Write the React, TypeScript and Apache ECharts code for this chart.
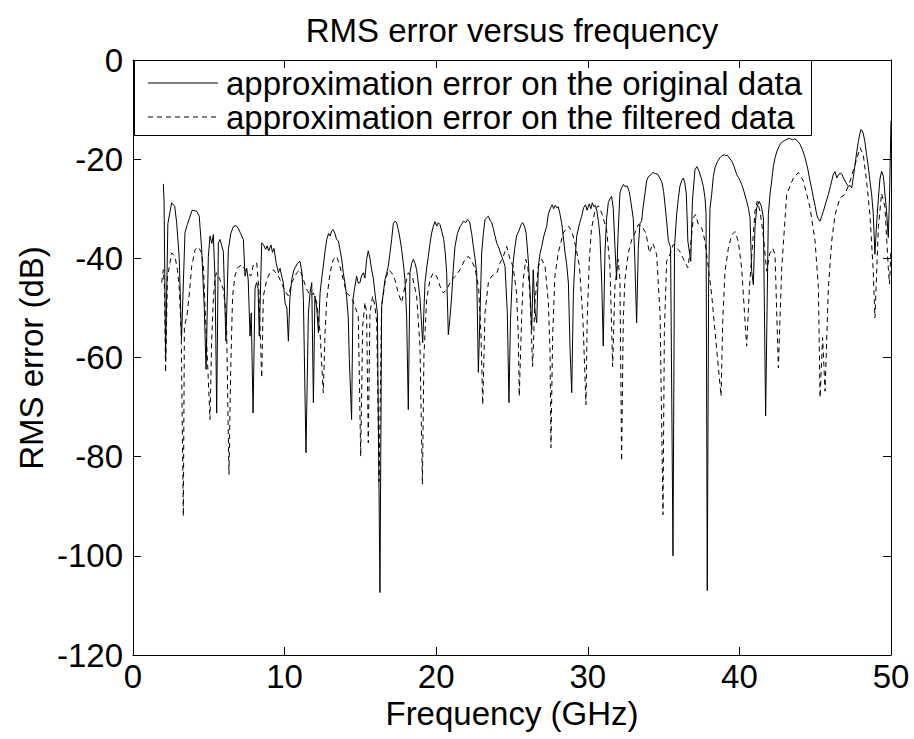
import React, { useEffect, useRef } from "react";
import * as echarts from "echarts";

const titleText = "RMS error versus frequency";
const xAxisTitle = "Frequency (GHz)";
const yAxisTitle = "RMS error (dB)";
const seriesNames = [
  "approximation error on the original data",
  "approximation error on the filtered data",
];
const xTicks = [0, 10, 20, 30, 40, 50];
const yTicks = [-120, -100, -80, -60, -40, -20, 0];

const freqOriginal = [
  2.0, 2.05, 2.15, 2.3, 2.55, 2.75, 2.88, 3.05, 3.2, 3.43, 3.58, 3.9, 4.2, 4.37, 4.53, 4.7, 4.82, 4.97, 5.08, 5.2,
  5.3, 5.42, 5.52, 5.63, 5.74, 5.96, 6.13, 6.29, 6.45, 6.62, 6.8, 6.95, 7.1, 7.28, 7.39, 7.5, 7.6, 7.72, 7.8, 7.92,
  8.05, 8.15, 8.25, 8.33, 8.49, 8.6, 8.75, 8.85, 8.95, 9.1, 9.2, 9.3, 9.45, 9.59, 9.7, 9.81, 9.92, 10.03, 10.15, 10.25,
  10.35, 10.47, 10.6, 10.69, 10.85, 11.02, 11.15, 11.24, 11.41, 11.57, 11.68, 11.79, 11.9, 12.0, 12.12, 12.23, 12.34, 12.45, 12.55, 12.67,
  12.78, 12.9, 13.0, 13.1, 13.21, 13.32, 13.43, 13.55, 13.65, 13.76, 13.87, 13.98, 14.09, 14.2, 14.27, 14.42, 14.51, 14.62, 14.75, 14.86,
  14.97, 15.08, 15.2, 15.3, 15.41, 15.52, 15.63, 15.74, 15.85, 15.96, 16.12, 16.29, 16.4, 16.51, 16.62, 16.73, 16.84, 16.95, 17.06, 17.17,
  17.28, 17.39, 17.5, 17.61, 17.72, 17.83, 17.94, 18.05, 18.16, 18.27, 18.38, 18.49, 18.6, 18.71, 18.82, 18.93, 19.11, 19.26, 19.37, 19.48,
  19.59, 19.7, 19.81, 19.92, 20.03, 20.14, 20.25, 20.36, 20.5, 20.6, 20.69, 20.8, 20.91, 21.02, 21.13, 21.24, 21.4, 21.57, 21.7, 21.8,
  21.95, 22.05, 22.2, 22.34, 22.45, 22.56, 22.67, 22.78, 22.9, 23.0, 23.11, 23.22, 23.33, 23.44, 23.55, 23.66, 23.77, 23.88, 24.0, 24.1,
  24.2, 24.32, 24.43, 24.54, 24.69, 24.8, 24.9, 25.05, 25.18, 25.3, 25.45, 25.6, 25.7, 25.82, 25.93, 26.07, 26.18, 26.3, 26.4, 26.51,
  26.63, 26.74, 26.85, 26.96, 27.1, 27.29, 27.4, 27.55, 27.65, 27.75, 27.85, 27.95, 28.05, 28.16, 28.27, 28.38, 28.5, 28.6, 28.72, 28.83,
  28.94, 29.05, 29.16, 29.27, 29.45, 29.6, 29.72, 29.85, 29.95, 30.1, 30.2, 30.3, 30.4, 30.5, 30.6, 30.7, 30.8, 30.92, 31.02, 31.13,
  31.24, 31.35, 31.46, 31.57, 31.68, 31.79, 31.9, 32.0, 32.12, 32.23, 32.35, 32.45, 32.6, 32.73, 32.85, 33.0, 33.1, 33.22, 33.33, 33.44,
  33.55, 33.66, 33.77, 33.88, 34.0, 34.1, 34.3, 34.45, 34.6, 34.75, 34.9, 35.0, 35.09, 35.2, 35.31, 35.46, 35.62, 35.72, 35.86, 35.97,
  36.08, 36.2, 36.3, 36.4, 36.5, 36.6, 36.79, 36.9, 37.07, 37.2, 37.35, 37.5, 37.62, 37.73, 37.8, 37.88, 37.97, 38.06, 38.17, 38.28,
  38.39, 38.55, 38.72, 38.85, 39.0, 39.1, 39.2, 39.35, 39.5, 39.65, 39.82, 40.0, 40.15, 40.3, 40.48, 40.6, 40.7, 40.81, 40.92, 41.03,
  41.14, 41.3, 41.45, 41.58, 41.73, 41.91, 42.02, 42.13, 42.24, 42.35, 42.5, 42.68, 42.85, 43.0, 43.1, 43.3, 43.5, 43.65, 43.8, 44.0,
  44.15, 44.33, 44.5, 44.66, 44.77, 44.88, 45.0, 45.1, 45.2, 45.32, 45.43, 45.54, 45.7, 45.87, 46.0, 46.09, 46.2, 46.31, 46.42, 46.53,
  46.64, 46.75, 46.9, 47.08, 47.2, 47.3, 47.41, 47.52, 47.63, 47.74, 47.85, 47.95, 48.02, 48.1, 48.17, 48.28, 48.39, 48.5, 48.61, 48.72,
  48.83, 48.94, 49.05, 49.17, 49.27, 49.38, 49.5, 49.6, 49.71, 49.82, 49.9, 50.0,
];
const rmsOriginal = [
  -25, -28.5, -60, -33, -28.8, -29.5, -32.8, -40, -56.4, -34.8, -33.2, -30.3, -30.5, -31.5, -38.2, -50, -62.4, -39.6, -35.5, -37,
  -35.2, -45, -71.2, -36.9, -36.2, -38.6, -56.7, -38.2, -35, -33.6, -33.4, -34, -35, -36.2, -43.6, -42, -44.3, -55.7, -51, -71.2,
  -46, -44.9, -46, -55.7, -36.9, -37.2, -38.2, -37.5, -38.5, -37.3, -38.8, -38, -41, -42.9, -42, -43.6, -45, -49, -50, -56.7,
  -48, -44.3, -42.5, -41.9, -41, -40.6, -43, -48.3, -79.2, -51, -47, -44.9, -69.1, -47.6, -50, -55, -47, -44, -41.6, -38.5,
  -36.2, -35, -35.5, -34.5, -34.2, -35, -36.2, -36.5, -38.2, -40, -42.9, -45, -47.6, -52, -60.4, -72.5, -48.3, -46, -43.6, -45,
  -44.9, -43.5, -42.9, -44, -40.2, -38.5, -40, -42.3, -44, -47, -51, -107.4, -49.7, -47, -44.3, -43, -41.6, -39, -36.2, -33,
  -32.5, -32.8, -34.2, -36, -38.2, -41, -44.3, -51.6, -70.5, -42.9, -41, -40.2, -41, -42.3, -45, -48, -57, -44.9, -42, -39.6,
  -37, -34.9, -33.5, -32.6, -33.5, -32.8, -33.2, -34.5, -36.2, -39, -42.9, -55.4, -52, -47.6, -42, -37.6, -35, -33.6, -33, -32.5,
  -32.8, -32.2, -32.6, -35, -37.6, -40, -42.9, -63, -50, -38.9, -35, -32.2, -31.8, -31.5, -32.3, -32.8, -34, -35.5, -37, -37.6,
  -38.5, -39.6, -40.5, -41.6, -51, -69.1, -52.4, -41.6, -38, -35.5, -34.5, -33.2, -32.8, -33.5, -34.9, -40.2, -46, -54.4, -42.3, -50.4,
  -53, -41.6, -39, -37.6, -35.5, -33.5, -31, -29.8, -29.2, -30, -29.3, -29.8, -29.6, -31, -32.8, -35.5, -38.9, -41, -45, -58.4,
  -67.1, -47, -40, -35.5, -33, -31.5, -29.8, -29.2, -30.3, -29, -30, -28.8, -29.6, -29.3, -30.5, -32.5, -35.5, -45, -57.7, -39,
  -32, -28.8, -28, -27.5, -30, -37.6, -44.3, -35, -26.8, -25.8, -25.1, -25.5, -25.4, -26.5, -28.8, -32, -40, -53, -38, -33,
  -32.5, -29.4, -27, -24.4, -23.5, -23.3, -22.7, -22.9, -23, -23.8, -24.8, -26.5, -29.1, -32.5, -36.4, -37.8, -100, -37.7, -31.2, -28,
  -25.4, -24.3, -23.8, -24.8, -27, -36.5, -40.6, -28.5, -22.1, -21.5, -22.5, -24, -25.5, -27.8, -31, -107, -45, -30, -27.1, -23.5,
  -21.7, -20.5, -19.7, -19.3, -19.1, -19.3, -19.2, -19.8, -20.4, -21.5, -23.1, -24, -25.1, -26.5, -28.5, -30, -31.8, -42.6, -45.3, -33.8,
  -29.8, -28.5, -29.5, -31.8, -71.8, -31.2, -27, -24.4, -21.5, -19.7, -18.2, -17, -16.5, -16.2, -16, -15.8, -16.1, -15.9, -16.2, -17,
  -18, -19.7, -21.8, -24.4, -26, -27.8, -29.5, -31.2, -32, -32.5, -31.5, -30.5, -28.8, -27.1, -25.5, -24.4, -23, -22.5, -23.8, -23.2,
  -22.8, -23, -24, -25, -25.5, -25.3, -25.8, -23.5, -21.1, -18.5, -16.4, -14.8, -14, -14.3, -14.8, -16.5, -19.1, -21.5, -24.4, -27,
  -31, -39.2, -33, -27.8, -24, -22.4, -23.5, -27, -30.5, -35.8, -28, -12.3,
];

const freqFiltered = [
  1.89, 2.0, 2.08, 2.15, 2.27, 2.4, 2.55, 2.77, 2.93, 3.05, 3.18, 3.32, 3.39, 3.55, 3.72, 3.87, 4.1, 4.31, 4.53, 4.65,
  4.75, 4.9, 5.08, 5.19, 5.3, 5.4, 5.5, 5.7, 5.96, 6.1, 6.18, 6.33, 6.44, 6.57, 6.72, 6.88, 7.17, 7.39, 7.6, 7.77,
  7.94, 8.16, 8.3, 8.49, 8.6, 8.82, 9.04, 9.26, 9.59, 9.8, 10.03, 10.25, 10.47, 10.8, 11.02, 11.24, 11.46, 11.7, 11.9, 12.12,
  12.34, 12.55, 12.67, 12.78, 13.0, 13.21, 13.43, 13.65, 13.87, 14.09, 14.31, 14.5, 14.64, 14.86, 15.02, 15.15, 15.3, 15.41, 15.52, 15.63,
  15.81, 15.95, 16.08, 16.23, 16.4, 16.62, 16.84, 17.06, 17.28, 17.5, 17.72, 17.94, 18.16, 18.45, 18.71, 18.93, 19.09, 19.19, 19.37, 19.59,
  19.81, 20.03, 20.25, 20.47, 20.69, 21.02, 21.3, 21.57, 21.9, 22.12, 22.34, 22.56, 22.8, 22.95, 23.07, 23.22, 23.44, 23.66, 24.0, 24.2,
  24.43, 24.65, 24.87, 25.07, 25.3, 25.41, 25.48, 25.63, 25.74, 25.91, 26.05, 26.18, 26.36, 26.51, 26.74, 26.96, 27.18, 27.4, 27.51, 27.57,
  27.68, 27.83, 28.05, 28.38, 28.72, 28.95, 29.2, 29.45, 29.68, 29.88, 29.96, 30.1, 30.24, 30.48, 30.7, 30.92, 31.24, 31.46, 31.57, 31.64,
  31.79, 32.0, 32.12, 32.23, 32.34, 32.45, 32.67, 32.9, 33.11, 33.33, 33.55, 33.84, 34.06, 34.3, 34.54, 34.77, 34.96, 35.05, 35.2, 35.42,
  35.64, 35.86, 36.05, 36.27, 36.6, 36.72, 36.96, 37.1, 37.3, 37.52, 37.73, 37.95, 38.17, 38.39, 38.79, 38.9, 39.05, 39.27, 39.49, 39.71,
  39.93, 40.15, 40.37, 40.48, 40.66, 40.85, 41.03, 41.18, 41.36, 41.6, 41.8, 42.0, 42.2, 42.35, 42.57, 42.79, 43.12, 43.56, 43.89, 44.22,
  44.66, 44.99, 45.21, 45.32, 45.49, 45.65, 45.87, 46.09, 46.31, 46.64, 46.97, 47.3, 47.63, 47.96, 48.17, 48.39, 48.61, 48.83, 48.94, 49.17,
  49.38, 49.6, 49.82, 49.9, 50.0,
];
const rmsFiltered = [
  -44.9, -42.3, -46, -63, -44, -41.6, -38.9, -39.6, -42.3, -46, -55, -92, -53.7, -51.8, -47, -41.6, -38.2, -37.7, -38.9, -42,
  -49.7, -59.7, -72.5, -56.4, -48.3, -44.3, -42.9, -44, -46.3, -50, -55, -83.6, -63, -47.6, -43.6, -41.9, -41.3, -42.3, -43, -43.6,
  -41.3, -40.9, -46.3, -64.1, -47.6, -44.3, -42.9, -42.3, -43.6, -45, -46.6, -47.6, -44.9, -42.9, -42.3, -44.3, -46.3, -47.5, -47, -48.9,
  -55, -67.1, -55, -48.3, -42.9, -40.2, -39.6, -41.6, -44.3, -47, -47.6, -48.5, -49.7, -51.6, -79.9, -53.7, -48.9, -51, -77.2, -51,
  -47.6, -49.5, -53, -85, -49.7, -44.9, -42.3, -42.9, -44.3, -47, -48.9, -45.6, -42.9, -44, -47.6, -57.7, -85.6, -59.7, -48.3, -44.3,
  -42.9, -43.6, -45.6, -47, -46.3, -44.3, -43.5, -42.3, -40.2, -39.6, -40.5, -42, -46, -55, -69.5, -51, -44.9, -43.6, -43, -41,
  -39.6, -37.6, -40.2, -41.6, -47, -55, -67.8, -52.4, -44.3, -40.2, -42, -47, -61.8, -49, -41.6, -40.2, -41.6, -49, -59, -78.2,
  -55.7, -43.6, -38.9, -34.9, -33.5, -34.5, -37.6, -41.6, -52.4, -69.5, -52.4, -40.2, -34.2, -30.2, -29.4, -30.9, -34.2, -41.6, -53.8, -61.8,
  -45.6, -40.2, -44.3, -80.9, -52.4, -44.3, -38.9, -36.2, -34.9, -33.2, -33.5, -34.9, -38.9, -37, -39.2, -51.4, -91.7, -55, -40.6, -39.2,
  -37.2, -37.9, -38.5, -39.9, -41.9, -39.2, -31.8, -31.2, -33.2, -33.9, -36.5, -41.9, -47.3, -54.7, -67.8, -52.7, -42.6, -38, -35.3, -34.6,
  -36.6, -42, -52.7, -57.7, -46, -38, -30.5, -28.5, -30.5, -36, -42.6, -39, -38, -39.2, -62.1, -42, -27.1, -23.8, -22.7, -24.4,
  -29.8, -36.5, -45.9, -68.1, -56, -66.8, -45.9, -36.5, -31.2, -27.8, -27.1, -24.4, -21.1, -17.7, -19.1, -24.4, -31.2, -42.6, -52, -33.6,
  -26.9, -29.6, -41.9, -45.2, -38,
];

const FONT = "Liberation Sans, Arial, Helvetica, sans-serif";
const FS = 33;

function zip(xs: number[], ys: number[]) {
  return xs.map((x, i) => [x, ys[i]]);
}

export default function App() {
  const ref = useRef<HTMLDivElement>(null);
  useEffect(() => {
    if (!ref.current) return;
    const chart = echarts.init(ref.current, undefined, { renderer: "svg" });
    const axisCommon = {
      type: "value" as const,
      axisLine: { show: true, onZero: false, lineStyle: { color: "#000", width: 1 } },
      axisTick: { show: true, inside: true, length: 8, lineStyle: { color: "#000", width: 1 } },
      splitLine: { show: false },
    };
    const legendX = 134;
    const legendY = 60;
    chart.setOption({
      animation: false,
      backgroundColor: "#fff",
      textStyle: { fontFamily: FONT },
      grid: { left: 133, right: 23, top: 60, bottom: 84, containLabel: false },
      xAxis: [
        {
          ...axisCommon,
          position: "bottom",
          min: xTicks[0],
          max: xTicks[xTicks.length - 1],
          interval: 10,
          axisLabel: { show: true, color: "#000", fontSize: FS, fontFamily: FONT, margin: 8, lineHeight: 26 },
        },
        {
          ...axisCommon,
          position: "top",
          min: xTicks[0],
          max: xTicks[xTicks.length - 1],
          interval: 10,
          axisLabel: { show: false },
        },
      ],
      yAxis: [
        {
          ...axisCommon,
          position: "left",
          min: yTicks[0],
          max: yTicks[yTicks.length - 1],
          interval: 20,
          axisLabel: { show: true, color: "#000", fontSize: FS, fontFamily: FONT, margin: 10 },
        },
        {
          ...axisCommon,
          position: "right",
          min: yTicks[0],
          max: yTicks[yTicks.length - 1],
          interval: 20,
          axisLabel: { show: false },
        },
      ],
      graphic: [
        {
          type: "text",
          x: 512,
          y: 30,
          style: { text: titleText, font: `${FS}px ${FONT}`, fill: "#000", align: "center", verticalAlign: "middle" },
        },
        {
          type: "text",
          x: 512,
          y: 713,
          style: {
            text: xAxisTitle,
            font: `${FS}px ${FONT}`,
            lineHeight: 26,
            fill: "#000",
            align: "center",
            verticalAlign: "middle",
          },
        },
        {
          type: "text",
          x: 31,
          y: 358,
          rotation: Math.PI / 2,
          style: { text: yAxisTitle, font: `${FS}px ${FONT}`, fill: "#000", align: "center", verticalAlign: "middle" },
        },
        {
          type: "group",
          z: 100,
          children: [
            {
              type: "rect",
              shape: { x: legendX + 0.5, y: legendY + 0.5, width: 677, height: 75 },
              style: { fill: "#fff", stroke: "#000", lineWidth: 1 },
            },
            {
              type: "line",
              shape: { x1: legendX + 14, y1: legendY + 23, x2: legendX + 84, y2: legendY + 23 },
              style: { stroke: "#000", lineWidth: 1 },
            },
            {
              type: "line",
              shape: { x1: legendX + 14, y1: legendY + 57, x2: legendX + 84, y2: legendY + 57 },
              style: { stroke: "#000", lineWidth: 1, lineDash: [5, 4] },
            },
            {
              type: "text",
              x: legendX + 92,
              y: legendY + 23,
              style: {
                text: seriesNames[0],
                font: `${FS}px ${FONT}`,
                lineHeight: 32,
                fill: "#000",
                align: "left",
                verticalAlign: "middle",
              },
            },
            {
              type: "text",
              x: legendX + 92,
              y: legendY + 57,
              style: {
                text: seriesNames[1],
                font: `${FS}px ${FONT}`,
                lineHeight: 32,
                fill: "#000",
                align: "left",
                verticalAlign: "middle",
              },
            },
          ],
        },
      ],
      series: [
        {
          name: seriesNames[0],
          type: "line",
          data: zip(freqOriginal, rmsOriginal),
          showSymbol: false,
          symbol: "none",
          lineStyle: { color: "#000", width: 1, type: "solid" },
          itemStyle: { color: "#000" },
          z: 3,
        },
        {
          name: seriesNames[1],
          type: "line",
          data: zip(freqFiltered, rmsFiltered),
          showSymbol: false,
          symbol: "none",
          lineStyle: { color: "#000", width: 1, type: [5, 4] },
          itemStyle: { color: "#000" },
          z: 2,
        },
      ],
    });
    return () => chart.dispose();
  }, []);
  return (
    <div
      ref={ref}
      style={{ position: "fixed", left: 0, top: 0, width: 914, height: 739, background: "#fff" }}
    />
  );
}
